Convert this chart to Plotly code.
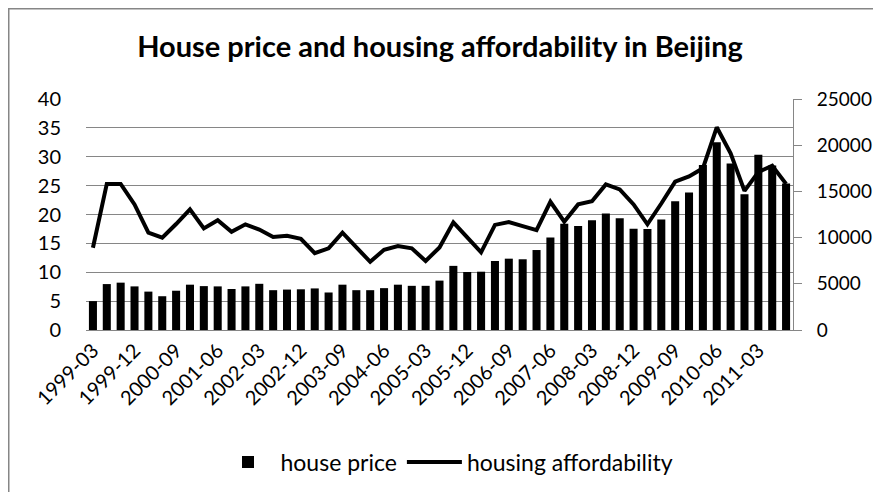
import plotly.graph_objects as go

# quarterly labels, 1999-03 .. 2011-09
quarters = [f"{y}-{m:02d}" for y in range(1999, 2012) for m in (3, 6, 9, 12)][:51]

house_price = [
    3125, 4970, 5125, 4720, 4155, 3655, 4250, 4905, 4750, 4720,
    4440, 4720, 5000, 4310, 4375, 4405, 4500, 4060, 4905, 4310,
    4310, 4530, 4905, 4780, 4780, 5345, 6940, 6280, 6310, 7470,
    7720, 7655, 8655, 10000, 11500, 11250, 11875, 12595, 12095, 10970,
    10940, 11970, 13940, 14875, 17845, 20310, 18030, 14690, 18970, 17810,
    15845,
]

housing_affordability = [
    14.25, 25.3, 25.3, 21.75, 16.85, 16.0, 18.35, 20.9, 17.6, 19.0,
    17.0, 18.3, 17.4, 16.1, 16.3, 15.8, 13.3, 14.15, 16.85, 14.25,
    11.8, 13.9, 14.55, 14.15, 11.95, 14.3, 18.65, 16.05, 13.45, 18.2,
    18.7, 18.0, 17.3, 22.2, 18.75, 21.75, 22.3, 25.2, 24.35, 21.75,
    18.3, 21.9, 25.7, 26.6, 28.0, 35.1, 30.6, 24.1, 27.35, 28.45,
    25.3,
]

FONT = "Lato"
GRID = "#868686"

# page body has an 8px margin, so the figure is a bit smaller than the window
W, H = 873, 484
L, T, PW, PH = 78, 91, 707, 231

fig = go.Figure()

fig.add_trace(
    go.Bar(
        x=quarters,
        y=house_price,
        name="house price",
        marker_color="black",
        marker_line_width=0,
        yaxis="y",
    )
)

fig.add_trace(
    go.Scatter(
        x=quarters,
        y=housing_affordability,
        name="housing affordability",
        mode="lines",
        line=dict(color="black", width=4),
        yaxis="y2",
    )
)

# chart area frame (only top/left edges fall inside the picture)
fig.add_shape(
    type="rect",
    xref="paper",
    yref="paper",
    x0=(0.75 - L) / PW,
    x1=1.3,
    y0=-1.0,
    y1=(T + PH - 0.75) / PH,
    line=dict(color=GRID, width=1.5),
    fillcolor="rgba(0,0,0,0)",
)

fig.update_layout(
    width=W,
    height=H,
    paper_bgcolor="white",
    plot_bgcolor="white",
    font=dict(family=FONT, color="black", size=19),
    title=dict(
        text="<b>House price and housing affordability in Beijing</b>",
        font=dict(family=FONT, size=29, color="black"),
        x=(440 - 8) / W,
        xref="container",
        xanchor="center",
        y=1 - 39 / H,
        yanchor="middle",
    ),
    margin=go.layout.Margin(
        l=L,  # left margin
        r=W - L - PW,  # right margin
        b=H - T - PH,  # bottom margin
        t=T,  # top margin
        autoexpand=False,
    ),
    bargap=0.42,
    showlegend=True,
    legend=dict(
        orientation="h",
        x=(447 - 8 - L) / PW,
        xanchor="center",
        y=(T + PH - 454) / PH,
        yanchor="middle",
        font=dict(family=FONT, size=23),
        itemwidth=55,
    ),
    xaxis=dict(
        type="category",
        dtick=3,
        tickangle=-45,
        showgrid=False,
        showline=True,
        linecolor=GRID,
        linewidth=1,
        ticks="",
        tickfont=dict(size=20),
        automargin=False,
    ),
    yaxis=dict(
        side="right",
        range=[0, 25000],
        dtick=5000,
        tickformat="d",
        showgrid=False,
        zeroline=False,
        showline=True,
        linecolor=GRID,
        ticks="outside",
        ticklen=8,
        tickcolor=GRID,
        ticklabelstandoff=11,
        tickfont=dict(size=19),
        automargin=False,
    ),
    yaxis2=dict(
        overlaying="y",
        side="left",
        range=[0, 40],
        dtick=5,
        showgrid=True,
        gridcolor=GRID,
        gridwidth=1,
        zeroline=False,
        showline=False,
        ticks="",
        ticklabelstandoff=24,
        tickfont=dict(size=20),
        automargin=False,
    ),
)

fig.write_html("out.html")
